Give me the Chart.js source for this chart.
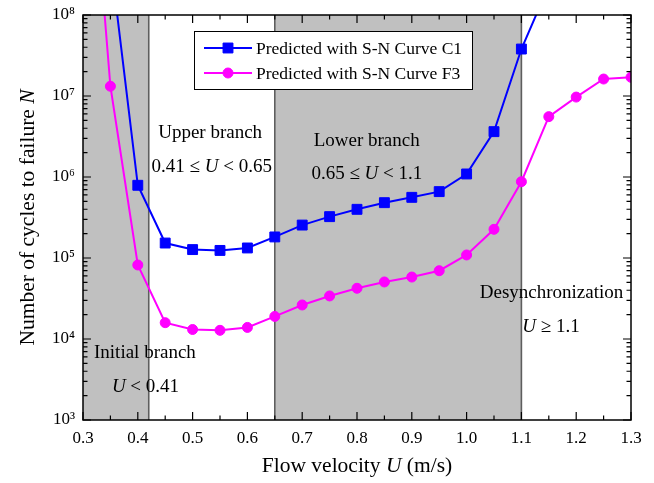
<!DOCTYPE html>
<html><head><meta charset="utf-8">
<script src="https://cdn.jsdelivr.net/npm/chart.js@4/dist/chart.umd.min.js"></script>
<style>html,body{margin:0;padding:0;background:#fff}#wrap{width:654px;height:483px}</style>
</head><body><div id="wrap"><canvas id="c" width="654" height="483"></canvas></div>
<script>
// ---- data ----
const uC1 = [0.35,0.40,0.45,0.50,0.55,0.60,0.65,0.70,0.75,0.80,0.85,0.90,0.95,1.00,1.05,1.10,1.15];
const nC1 = [5.0e8,7.9e5,1.53e5,1.27e5,1.24e5,1.33e5,1.82e5,2.55e5,3.24e5,3.99e5,4.82e5,5.61e5,6.6e5,1.09e6,3.63e6,3.8e7,2.3e8];
const uF3 = [0.30,0.35,0.40,0.45,0.50,0.55,0.60,0.65,0.70,0.75,0.80,0.85,0.90,0.95,1.00,1.05,1.10,1.15,1.20,1.25,1.30];
const nF3 = [2e11,1.32e7,8.2e4,1.59e4,1.31e4,1.28e4,1.39e4,1.9e4,2.63e4,3.4e4,4.23e4,5.06e4,5.82e4,6.97e4,1.09e5,2.26e5,8.75e5,5.56e6,9.7e6,1.62e7,1.7e7];
const seriesLabels = ['Predicted with S-N Curve C1','Predicted with S-N Curve F3'];
const xTickValues = [0.3,0.4,0.5,0.6,0.7,0.8,0.9,1.0,1.1,1.2,1.3];
const yTickExponents = [3,4,5,6,7,8];
const bandStarts = [0.3,0.65];
const bandEnds = [0.42,1.1];
const boundaryValues = [0.42,0.65,1.1];
const regionLabels = [
  [['Upper branch',false]],
  [['0.41 \u2264 ',false],['U',true],[' < 0.65',false]],
  [['Lower branch',false]],
  [['0.65 \u2264 ',false],['U',true],[' < 1.1',false]],
  [['Initial branch',false]],
  [['U',true],[' < 0.41',false]],
  [['Desynchronization',false]],
  [['U',true],[' \u2265 1.1',false]]
];
const xTitle = [['Flow velocity ',false],['U',true],[' (m/s)',false]];
const yTitle = [['Number of cycles to failure ',false],['N',true]];

// ---- layout / style ----
const FAM = '"Liberation Serif","Times New Roman",serif';
const regionPos = [[0.532,6.543],[0.535,6.123],[0.8177,6.444],[0.818,6.037],[0.413,3.823],[0.414,3.411],[1.155,4.564],[1.154,4.152]];
const SUP = {'0':'\u2070','1':'\u00b9','2':'\u00b2','3':'\u00b3','4':'\u2074','5':'\u2075','6':'\u2076','7':'\u2077','8':'\u2078','9':'\u2079'};

function drawRich(ctx, segs, cx, cy, size){
  let widths=[], total=0;
  for(const [t,it] of segs){ ctx.font=(it?'italic ':'')+size+'px '+FAM; const w=ctx.measureText(t).width; widths.push(w); total+=w; }
  let x=cx-total/2;
  ctx.textAlign='left'; ctx.textBaseline='middle'; ctx.fillStyle='#000';
  segs.forEach(([t,it],i)=>{ ctx.font=(it?'italic ':'')+size+'px '+FAM; ctx.fillText(t,x,cy); x+=widths[i]; });
}

const decor = {
  id:'decor',
  beforeDatasetsDraw(chart){
    const {ctx, chartArea:a, scales:{x}} = chart;
    ctx.save();
    ctx.beginPath(); ctx.rect(a.left,a.top,a.right-a.left,a.bottom-a.top); ctx.clip();
    ctx.fillStyle='#c0c0c0';
    bandStarts.forEach((s,i)=>{ const x0=x.getPixelForValue(s), x1=x.getPixelForValue(bandEnds[i]); ctx.fillRect(x0,a.top,x1-x0,a.bottom-a.top); });
    ctx.strokeStyle='#5e5e5e'; ctx.lineWidth=1.6;
    boundaryValues.forEach(v=>{ const px=x.getPixelForValue(v); ctx.beginPath(); ctx.moveTo(px,a.top); ctx.lineTo(px,a.bottom); ctx.stroke(); });
    ctx.restore();
  },
  afterDatasetsDraw(chart){
    const {ctx, chartArea:a, scales:{x,y}} = chart;
    ctx.save();
    // region labels
    regionLabels.forEach((segs,i)=>{
      const [vx,ly]=regionPos[i];
      drawRich(ctx, segs, x.getPixelForValue(vx), y.getPixelForValue(Math.pow(10,ly)), 19);
    });
    // frame
    ctx.strokeStyle='#000'; ctx.lineWidth=1.5;
    ctx.strokeRect(a.left,a.top,a.right-a.left,a.bottom-a.top);
    // x ticks inward top & bottom
    ctx.lineWidth=1.2;
    for(let i=0;i<=20;i++){
      const v=0.3+i*0.05, px=x.getPixelForValue(v), L=(i%2===0)?8:4.5;
      ctx.beginPath();
      ctx.moveTo(px,a.bottom); ctx.lineTo(px,a.bottom-L);
      ctx.moveTo(px,a.top); ctx.lineTo(px,a.top+L);
      ctx.stroke();
    }
    // y ticks inward left & right
    for(let e=3;e<=8;e++){
      for(let m=1;m<=9;m++){
        if(e===8 && m>1) break;
        const py=y.getPixelForValue(m*Math.pow(10,e)), L=(m===1)?8:4.5;
        ctx.beginPath();
        ctx.moveTo(a.left,py); ctx.lineTo(a.left+L,py);
        ctx.moveTo(a.right,py); ctx.lineTo(a.right-L,py);
        ctx.stroke();
      }
    }
    // legend
    const bx=194, by=31, bw=278, bh=58;
    ctx.fillStyle='#fff'; ctx.fillRect(bx,by,bw,bh);
    ctx.strokeStyle='#000'; ctx.lineWidth=1; ctx.strokeRect(bx+0.5,by+0.5,bw,bh);
    chart.data.datasets.forEach((ds,i)=>{
      const ly=48+i*25;
      ctx.strokeStyle=ds.borderColor; ctx.lineWidth=ds.borderWidth;
      ctx.beginPath(); ctx.moveTo(204,ly); ctx.lineTo(252,ly); ctx.stroke();
      ctx.fillStyle=ds.pointBackgroundColor; ctx.strokeStyle=ds.pointBorderColor; ctx.lineWidth=ds.pointBorderWidth;
      Chart.helpers.drawPoint(ctx,{pointStyle:ds.pointStyle,radius:ds.pointRadius,borderWidth:ds.pointBorderWidth,rotation:0},228,ly);
      ctx.fillStyle='#000'; ctx.font='17.5px '+FAM; ctx.textAlign='left'; ctx.textBaseline='middle';
      ctx.fillText(ds.label,256,ly+1);
    });
    // axis titles
    drawRich(ctx, xTitle, (a.left+a.right)/2, 466, 21.5);
    ctx.translate(28,(a.top+a.bottom)/2); ctx.rotate(-Math.PI/2);
    drawRich(ctx, yTitle, 0, 0, 21.5);
    ctx.restore();
  }
};

new Chart(document.getElementById('c'), {
  type:'line',
  data:{datasets:[
    {label:seriesLabels[0], data:uC1.map((u,i)=>({x:u,y:nC1[i]})), borderColor:'#0000ff', backgroundColor:'#0000ff',
     borderWidth:2, pointStyle:'rect', pointRadius:7, pointBackgroundColor:'#0000ff', pointBorderColor:'#0000ff', pointBorderWidth:1, tension:0},
    {label:seriesLabels[1], data:uF3.map((u,i)=>({x:u,y:nF3[i]})), borderColor:'#ff00ff', backgroundColor:'#ff00ff',
     borderWidth:2, pointStyle:'circle', pointRadius:5, pointBackgroundColor:'#ff00ff', pointBorderColor:'#ff00ff', pointBorderWidth:1, tension:0}
  ]},
  options:{
    responsive:false, animation:false, devicePixelRatio:1,
    layout:{padding:{left:0,top:15,right:23,bottom:0}},
    plugins:{legend:{display:false}, tooltip:{enabled:false}},
    scales:{
      x:{type:'linear', min:0.3, max:1.3,
         afterBuildTicks:s=>{ s.ticks=xTickValues.map(v=>({value:v})); },
         afterFit:s=>{ s.height=63; s.paddingLeft=0; s.paddingRight=0; },
         grid:{display:false, drawTicks:false}, border:{display:false},
         ticks:{autoSkip:false, maxRotation:0, padding:8, color:'#000', font:{family:FAM,size:17},
                callback:v=>Number(v).toFixed(1)}},
      y:{type:'logarithmic', min:1e3, max:1e8,
         afterBuildTicks:s=>{ s.ticks=yTickExponents.map(e=>({value:Math.pow(10,e)})); },
         afterFit:s=>{ s.width=83; s.paddingTop=0; s.paddingBottom=0; },
         grid:{display:false, drawTicks:false}, border:{display:false},
         ticks:{autoSkip:false, padding:8, color:'#000', font:{family:FAM,size:17},
                callback:v=>'10'+String(Math.round(Math.log10(v))).split('').map(c=>SUP[c]).join('')}}
    }
  },
  plugins:[decor]
});
</script></body></html>
